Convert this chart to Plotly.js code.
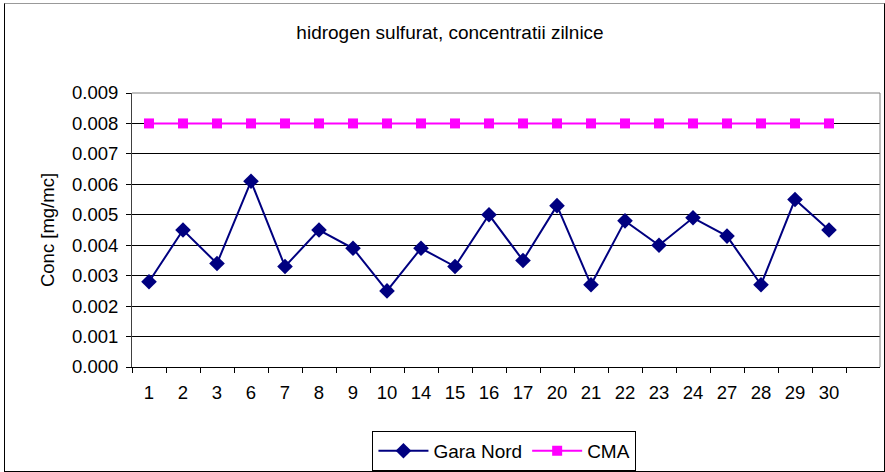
<!DOCTYPE html>
<html>
<head>
<meta charset="utf-8">
<script src="https://cdn.plot.ly/plotly-3.0.1.min.js"></script>
<style>
html,body{margin:0;padding:0;background:#fff;}
#wrap{position:relative;width:885px;height:472px;}
#chart{position:absolute;left:0;top:0;width:885px;height:472px;}
#frame{position:absolute;left:4px;top:3px;width:879px;height:467px;border:1px solid #000;border-top-color:#999;pointer-events:none;}
</style>
</head>
<body>
<div id="wrap"><div id="chart"></div><div id="frame"></div></div>
<script>
var days = ["1","2","3","6","7","8","9","10","14","15","16","17","20","21","22","23","24","27","28","29","30"];
var garaNord = [0.0028,0.0045,0.0034,0.0061,0.0033,0.0045,0.0039,0.0025,0.0039,0.0033,0.0050,0.0035,0.0053,0.0027,0.0048,0.0040,0.0049,0.0043,0.0027,0.0055,0.0045];
var cma = [0.008,0.008,0.008,0.008,0.008,0.008,0.008,0.008,0.008,0.008,0.008,0.008,0.008,0.008,0.008,0.008,0.008,0.008,0.008,0.008,0.008];
var yTicks = [0,0.001,0.002,0.003,0.004,0.005,0.006,0.007,0.008,0.009];

var font = "Liberation Sans, Arial, sans-serif";
var traces = [
  {x: days, y: garaNord, name: "Gara Nord", type: "scatter", mode: "lines+markers",
   line: {color: "#000080", width: 2},
   marker: {symbol: "diamond", size: 12, color: "#000080"}},
  {x: days, y: cma, name: "CMA", type: "scatter", mode: "lines+markers",
   line: {color: "#FF00FF", width: 2},
   marker: {symbol: "square", size: 10, color: "#FF00FF"}}
];
var layout = {
  width: 885, height: 472,
  margin: {l: 132, r: 5, t: 93, b: 105},
  paper_bgcolor: "#fff", plot_bgcolor: "#fff",
  font: {family: font, size: 18.5, color: "#000"},
  title: {text: "hidrogen sulfurat, concentratii zilnice", font: {family: font, size: 19, color: "#000"},
          x: 0.5085, xanchor: "center", y: 0.932, yanchor: "middle"},
  xaxis: {type: "category", categoryorder: "array", categoryarray: days,
          range: [-0.5, 21.5], tickson: "boundaries", ticks: "outside", ticklen: 5,
          tickcolor: "#000", showgrid: false, showline: true, linecolor: "#000", linewidth: 1,
          mirror: false, zeroline: false, tickfont: {family: font, size: 18.5},
          ticklabelstandoff: 9, automargin: false},
  yaxis: {range: [0, 0.009], tickvals: yTicks, tickformat: ".3f", ticks: "outside", ticklen: 5,
          tickcolor: "#000", showgrid: true, gridcolor: "#000", gridwidth: 1,
          showline: true, linecolor: "#404040", linewidth: 1, zeroline: false,
          tickfont: {family: font, size: 18.5}, ticklabelstandoff: 4, automargin: false,
          title: {text: "Conc [mg/mc]", font: {family: font, size: 18.5}, standoff: 12}},
  shapes: [
    {type: "line", xref: "paper", yref: "paper", x0: 1, x1: 1, y0: 0, y1: 1, line: {color: "#808080", width: 1}},
    {type: "line", xref: "paper", yref: "paper", x0: 0, x1: 1, y0: 1, y1: 1, line: {color: "#808080", width: 1}}
  ],
  showlegend: true,
  legend: {orientation: "h", xref: "container", yref: "container", x: 0.570, xanchor: "center",
           y: 0.087, yanchor: "top", itemwidth: 50,
           bordercolor: "#000", borderwidth: 1, font: {family: font, size: 19}, bgcolor: "#fff"}
};
Plotly.newPlot("chart", traces, layout, {displayModeBar: false, staticPlot: true});
</script>
</body>
</html>
